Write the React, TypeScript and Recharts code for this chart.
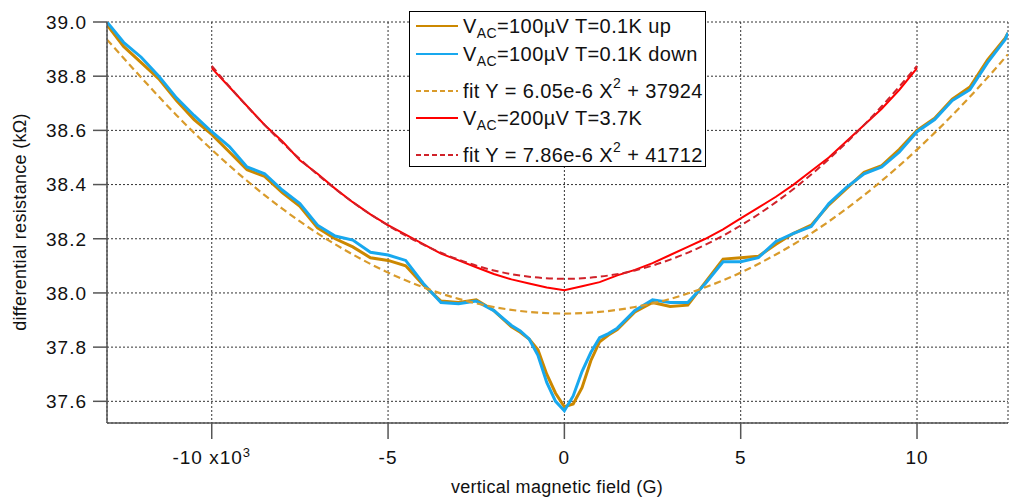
import React from 'react';
import { LineChart, Line, XAxis, YAxis, CartesianGrid } from 'recharts';

// magnetic field (G) for the 0.1 K sweeps
const fieldLow = [
  -12970, -12500, -12000, -11500, -11000, -10500, -10000, -9500, -9000, -8500, -8000, -7500,
  -7000, -6500, -6000, -5500, -5000, -4500, -4000, -3500, -3000, -2500, -2000, -1500,
  -1250, -1000, -750, -500, -250, 0, 250, 500, 750, 1000, 1250, 1500,
  2000, 2500, 3000, 3500, 4000, 4500, 5000, 5500, 6000, 6500, 7000, 7500,
  8000, 8500, 9000, 9500, 10000, 10500, 11000, 11500, 12000, 12500, 12580,
];
// differential resistance (kOhm), sweep up
const rUp = [
  38.99, 38.91, 38.85, 38.79, 38.71, 38.64, 38.585, 38.52, 38.455, 38.43, 38.37, 38.32,
  38.24, 38.2, 38.17, 38.13, 38.12, 38.1, 38.03, 37.97, 37.965, 37.975, 37.935, 37.875,
  37.855, 37.83, 37.79, 37.7, 37.63, 37.58, 37.59, 37.65, 37.75, 37.82, 37.845, 37.865,
  37.93, 37.965, 37.95, 37.955, 38.04, 38.125, 38.13, 38.135, 38.18, 38.22, 38.25, 38.325,
  38.385, 38.445, 38.47, 38.53, 38.6, 38.645, 38.715, 38.76, 38.86, 38.94, 38.96,
];
// sweep down
const rDown = [
  39.0, 38.925, 38.87, 38.8, 38.72, 38.655, 38.595, 38.54, 38.465, 38.44, 38.38, 38.33,
  38.25, 38.21, 38.195, 38.15, 38.14, 38.12, 38.035, 37.965, 37.96, 37.97, 37.935, 37.88,
  37.86, 37.83, 37.77, 37.67, 37.6, 37.565, 37.62, 37.71, 37.78, 37.835, 37.85, 37.87,
  37.935, 37.975, 37.965, 37.965, 38.035, 38.115, 38.115, 38.13, 38.19, 38.22, 38.245, 38.33,
  38.39, 38.44, 38.465, 38.52, 38.595, 38.64, 38.71, 38.75, 38.85, 38.935, 38.96,
];

// parabola fit of the 0.1 K data
const fieldFitLow = [
  -12970, -12000, -11000, -10000, -9000, -8000, -7000, -6000, -5000, -4000, -3000, -2000, -1000,
  0, 1000, 2000, 3000, 4000, 5000, 6000, 7000, 8000, 9000, 10000, 11000, 12000, 12580,
];
const rFitLow = [
  38.935, 38.795, 38.656, 38.529, 38.414, 38.311, 38.22, 38.142, 38.075, 38.021, 37.978, 37.948, 37.93,
  37.924, 37.93, 37.948, 37.978, 38.021, 38.075, 38.142, 38.22, 38.311, 38.414, 38.529, 38.656, 38.795, 38.881,
];

// 3.7 K sweep
const fieldHigh = [
  -10000, -9500, -9000, -8500, -8000, -7500, -7000, -6500, -6000, -5500, -5000,
  -4500, -4000, -3500, -3000, -2500, -2000, -1500, -1000, -500, 0,
  500, 1000, 1500, 2000, 2500, 3000, 3500, 4000, 4500, 5000,
  5500, 6000, 6500, 7000, 7500, 8000, 8500, 9000, 9500, 10000,
];
const rHigh = [
  38.83, 38.76, 38.69, 38.62, 38.56, 38.49, 38.44, 38.385, 38.335, 38.29, 38.25,
  38.215, 38.18, 38.145, 38.12, 38.095, 38.07, 38.05, 38.035, 38.02, 38.01,
  38.025, 38.04, 38.065, 38.085, 38.11, 38.14, 38.17, 38.2, 38.235, 38.275,
  38.315, 38.355, 38.4, 38.45, 38.5, 38.56, 38.62, 38.68, 38.75, 38.83,
];

const fieldFitHigh = [
  -10000, -9000, -8000, -7000, -6000, -5000, -4000, -3000, -2000, -1000,
  0, 1000, 2000, 3000, 4000, 5000, 6000, 7000, 8000, 9000, 10000,
];
const rFitHigh = [
  38.838, 38.689, 38.555, 38.437, 38.335, 38.249, 38.178, 38.123, 38.083, 38.06,
  38.052, 38.06, 38.083, 38.123, 38.178, 38.249, 38.335, 38.437, 38.555, 38.689, 38.838,
];

const xTicks = [-10000, -5000, 0, 5000, 10000];
const yTicks = [37.6, 37.8, 38.0, 38.2, 38.4, 38.6, 38.8, 39.0];

const FONT = '"Liberation Sans", Arial, sans-serif';
const AXIS = '#555';

const zip = (xs: number[], ys: number[]) => xs.map((x, i) => ({ x, y: ys[i] }));

const series = [
  { key: 'up', data: zip(fieldLow, rUp), color: '#CC8800', width: 3, dash: undefined, type: 'linear' },
  { key: 'down', data: zip(fieldLow, rDown), color: '#18A8EE', width: 3, dash: undefined, type: 'linear' },
  { key: 'fitLow', data: zip(fieldFitLow, rFitLow), color: '#D99B2B', width: 2.2, dash: '7 4', type: 'monotone' },
  { key: 'high', data: zip(fieldHigh, rHigh), color: '#FF0000', width: 2, dash: undefined, type: 'linear' },
  { key: 'fitHigh', data: zip(fieldFitHigh, rFitHigh), color: '#D0222A', width: 2, dash: '7 4', type: 'monotone' },
];

const XTick = (props: any) => {
  const { x, y, payload } = props;
  const v = payload.value;
  return (
    <text x={x} y={y} dy="0.71em" textAnchor="middle" fontSize={19} letterSpacing={1} fontFamily={FONT} fill="#111">
      {v === -10000 ? (
        <>
          -10 x10<tspan dy={-7} fontSize={13}>3</tspan>
        </>
      ) : (
        String(v / 1000)
      )}
    </text>
  );
};

const Sub = ({ children }: { children: React.ReactNode }) => (
  <span style={{ fontSize: 14, position: 'relative', top: 5 }}>{children}</span>
);
const Sup = ({ children }: { children: React.ReactNode }) => (
  <span style={{ fontSize: 14, position: 'relative', top: -10 }}>{children}</span>
);

const legendRows = [
  { y: 25, color: '#CC8800', dash: undefined, label: <>V<Sub>AC</Sub>=100µV T=0.1K up</> },
  { y: 53, color: '#18A8EE', dash: undefined, label: <>V<Sub>AC</Sub>=100µV T=0.1K down</> },
  { y: 90, color: '#D99B2B', dash: '5 3', label: <>fit Y = 6.05e-6 X<Sup>2</Sup> + 37924</> },
  { y: 117, color: '#FF0000', dash: undefined, label: <>V<Sub>AC</Sub>=200µV T=3.7K</> },
  { y: 154, color: '#D0222A', dash: '5 3', label: <>fit Y = 7.86e-6 X<Sup>2</Sup> + 41712</> },
];

export default function App() {
  return (
    <div style={{ position: 'absolute', left: 0, top: 0, width: 1009, height: 500, fontFamily: FONT, background: '#fff' }}>
      <LineChart width={1009} height={500} margin={{ top: 22, right: 1, bottom: 27, left: 47 }}>
        <CartesianGrid stroke="#333" strokeDasharray="2 2" />
        <XAxis
          type="number"
          dataKey="x"
          domain={[-12970, 12580]}
          allowDataOverflow
          ticks={xTicks}
          tick={<XTick />}
          tickSize={16}
          tickMargin={12}
          height={50}
          axisLine={{ stroke: AXIS, strokeWidth: 1.5 }}
          tickLine={{ stroke: AXIS, strokeWidth: 1.5 }}
        />
        <YAxis
          type="number"
          dataKey="y"
          domain={[37.52, 39.0]}
          allowDataOverflow
          ticks={yTicks}
          tickFormatter={(v: number) => v.toFixed(1)}
          tickSize={14}
          tickMargin={6}
          width={60}
          tick={{ fontSize: 19, fontFamily: FONT, fill: '#111', letterSpacing: 1 }}
          axisLine={{ stroke: AXIS, strokeWidth: 1.5 }}
          tickLine={{ stroke: AXIS, strokeWidth: 1.5 }}
        />
        {series.map((s) => (
          <Line
            key={s.key}
            data={s.data}
            dataKey="y"
            type={s.type as any}
            stroke={s.color}
            strokeWidth={s.width}
            strokeDasharray={s.dash}
            dot={false}
            activeDot={false}
            isAnimationActive={false}
          />
        ))}
      </LineChart>
      <svg width={1009} height={500} style={{ position: 'absolute', left: 0, top: 0, pointerEvents: 'none' }}>
        <text x={20} y={222} transform="rotate(-90 20 222)" textAnchor="middle" dominantBaseline="central" fontSize={18} letterSpacing={0.3} fontFamily={FONT} fill="#111">
          differential resistance (kΩ)
        </text>
        <text x={557} y={487} textAnchor="middle" dominantBaseline="central" fontSize={18} letterSpacing={0.3} fontFamily={FONT} fill="#111">
          vertical magnetic field (G)
        </text>
      </svg>
      <div
        style={{
          position: 'absolute',
          left: 409,
          top: 11,
          width: 297,
          height: 156,
          border: '1px solid #000',
          background: '#fff',
          boxSizing: 'border-box',
        }}
      >
        {legendRows.map((r, i) => (
          <div key={i} style={{ position: 'absolute', left: 0, top: r.y - 11 - 12, height: 24, width: 295, whiteSpace: 'nowrap' }}>
            <svg width={44} height={24} style={{ position: 'absolute', left: 5, top: 0 }}>
              <line x1={1} x2={43} y1={12} y2={12} stroke={r.color} strokeWidth={2} strokeDasharray={r.dash} />
            </svg>
            <span style={{ position: 'absolute', left: 53, top: 0, lineHeight: '24px', fontSize: 20, letterSpacing: 0.4, color: '#111' }}>{r.label}</span>
          </div>
        ))}
      </div>
    </div>
  );
}
